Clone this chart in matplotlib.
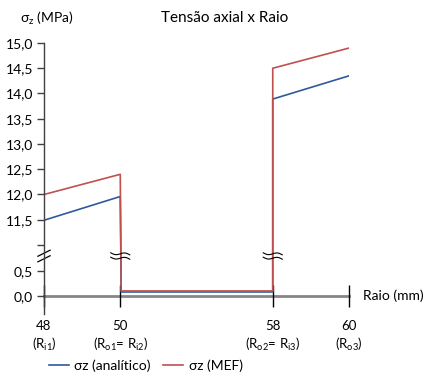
import numpy as np
import matplotlib
matplotlib.use("Agg")
import matplotlib.pyplot as plt
from matplotlib.lines import Line2D
import matplotlib.transforms as mtransforms

plt.rcParams['font.family'] = ['Lato', 'DejaVu Sans']
plt.rcParams['mathtext.fontset'] = 'custom'
plt.rcParams['mathtext.rm'] = 'Lato'
plt.rcParams['mathtext.it'] = 'Lato:italic'

# Data
raio = [48.0, 50.0, 50.05, 58.0, 58.0, 60.0]
sz_analitico = [11.49, 11.96, 0.08, 0.08, 13.89, 14.35]
sz_mef = [12.0, 12.4, 0.10, 0.10, 14.5, 14.9]
xticks = [48, 50, 58, 60]
xtick_labels = ["48\n(R$_{\\mathregular{i1}}$)", "50\n(R$_{\\mathregular{o1}}$= R$_{\\mathregular{i2}}$)",
                "58\n(R$_{\\mathregular{o2}}$= R$_{\\mathregular{i3}}$)", "60\n(R$_{\\mathregular{o3}}$)"]
yticks = [0.0, 0.5, 11.0, 11.5, 12.0, 12.5, 13.0, 13.5, 14.0, 14.5, 15.0]
ytick_labels = ["0,0", "0,5", "", "11,5", "12,0", "12,5", "13,0", "13,5", "14,0", "14,5", "15,0"]

c_blue = "#2E5A9B"
c_red = "#C0504D"


def xf(x):
    x = np.asarray(x, dtype=float)
    return np.where(x <= 50, (x - 48) * 2, np.where(x <= 58, 4 + (x - 50), 12 + (x - 58) * 2))


def xi(u):
    u = np.asarray(u, dtype=float)
    return np.where(u <= 4, 48 + u / 2, np.where(u <= 12, 50 + (u - 4), 58 + (u - 12) / 2))


EPS = 1e-3


def yf(y):
    y = np.asarray(y, dtype=float)
    return np.where(y <= 1, y, np.where(y >= 11, y - 10 + 10 * EPS, 1 + (y - 1) * EPS))


def yi(v):
    v = np.asarray(v, dtype=float)
    return np.where(v <= 1, v, np.where(v >= 1 + 10 * EPS, v + 10 - 10 * EPS, 1 + (v - 1) / EPS))


fig = plt.figure(figsize=(4.26, 3.78), dpi=100)
ax = fig.add_axes([44 / 426, 1 - 296 / 378, (349 - 44) / 426, (296 - 43) / 378])
ax.set_xscale('function', functions=(xf, xi))
ax.set_yscale('function', functions=(yf, yi))

ax.plot(raio, sz_analitico, color=c_blue, lw=1.2, label="σz (analítico)")
ax.plot(raio, sz_mef, color=c_red, lw=1.2, label="σz (MEF)")

ax.set_xlim(48, 60)
ax.set_ylim(0, 15)

ax.set_xticks(xticks)
ax.set_xticklabels(xtick_labels, fontsize=9.5, linespacing=1.35)
ax.set_yticks(yticks)
ax.set_yticklabels(ytick_labels, fontsize=10)
ax.yaxis.set_minor_locator(matplotlib.ticker.NullLocator())
ax.xaxis.set_minor_locator(matplotlib.ticker.NullLocator())

for s in ['top', 'right']:
    ax.spines[s].set_visible(False)
ax.spines['bottom'].set_color('#868686')
ax.spines['bottom'].set_linewidth(2)
ax.spines['bottom'].set_zorder(1)
ax.spines['left'].set_color('#404040')
ax.spines['left'].set_linewidth(1)
ax.spines['left'].set_bounds(-0.35, 15)
ax.tick_params(axis='y', direction='out', length=5, width=1, color='#404040', pad=3)
ax.tick_params(axis='x', direction='inout', length=16, width=1, color='black', pad=9)

# break marks (wavy "≈" on the vertical jumps)
yb = (296 - 256) / (296 - 43)
tt = np.linspace(-1, 1, 40)
wave_x = tt * 9.5 / 100
wave_y = 1.3 * np.sin(tt * np.pi) / 100 - tt * 1.0 / 100
base = mtransforms.blended_transform_factory(ax.transData, ax.transAxes)
for xb in [50, 58]:
    for dy in [-2.2, 2.2]:
        line = Line2D(wave_x, wave_y, color='black', lw=0.8, zorder=6, clip_on=False)
        ax.add_line(line)
        line.set_transform(fig.dpi_scale_trans
                           + mtransforms.ScaledTranslation(0, dy / 100, fig.dpi_scale_trans)
                           + mtransforms.Affine2D().translate(*base.transform((xb, yb))))

# slanted marks on y-axis
for dy in [-0.011, 0.011]:
    ax.plot([-0.02, 0.02], [yb + dy - 0.012, yb + dy + 0.012], transform=ax.transAxes,
            color='black', lw=0.9, clip_on=False)

fig.text(20 / 426, 1 - 18 / 378, "σ$_{\\mathregular{z}}$ (MPa)", fontsize=10, va='center', ha='left')
fig.text(225 / 426, 1 - 18 / 378, "Tensão axial x Raio", fontsize=11, va='center', ha='center')
fig.text(363 / 426, 1 - 296 / 378, "Raio (mm)", fontsize=10, va='center', ha='left')

handles = [Line2D([], [], color=c_blue, lw=1.2), Line2D([], [], color=c_red, lw=1.2)]
fig.legend(handles, ["σz (analítico)", "σz (MEF)"], loc='center left',
           bbox_to_anchor=(36 / 426, 1 - 366 / 378), ncol=2, frameon=False,
           fontsize=10, handlelength=1.45, handletextpad=0.4, columnspacing=0.9)

fig.savefig("out.png", dpi=100)
